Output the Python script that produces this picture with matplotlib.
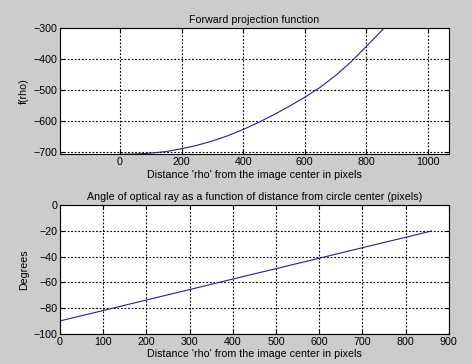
import matplotlib
matplotlib.use("Agg")
import matplotlib.pyplot as plt

# forward projection f(rho)
rho_f = [0, 50, 100, 150, 200, 250, 300, 350, 400, 450, 500, 550, 600,
         650, 700, 750, 800, 850, 860]
f_rho = [-706, -705, -702, -697, -688, -677, -663, -646, -626, -603, -578,
         -551, -522, -490, -452, -408, -358, -307, -297]

# angle of optical ray (degrees)
rho_a = [0, 100, 200, 300, 400, 500, 600, 700, 800, 860]
angle = [-90, -81.9, -73.7, -65.6, -57.4, -49.3, -41.2, -33.0, -24.9, -20]

xt_top = [0, 200, 400, 600, 800, 1000]
yt_top = [-700, -600, -500, -400, -300]
xt_bot = [0, 100, 200, 300, 400, 500, 600, 700, 800, 900]
yt_bot = [-100, -80, -60, -40, -20, 0]

plt.rcParams['font.family'] = ['Liberation Sans', 'DejaVu Sans']
fs = 7.7

bg = '#cccccc'
line_col = '#22228a'

fig = plt.figure(figsize=(4.72, 3.64), dpi=100, facecolor=bg)


def style(ax):
    ax.set_facecolor('white')
    ax.grid(True, color='black', linestyle=(0, (1.6, 1.6)), linewidth=0.8)
    ax.tick_params(direction='in', length=3, top=True, right=True,
                   labelsize=fs, pad=2)
    for s in ax.spines.values():
        s.set_linewidth(0.8)


ax1 = fig.add_axes([0.127, 0.576, 0.824, 0.346])
ax1.plot(rho_f, f_rho, color=line_col, linewidth=0.8)
ax1.set_xlim(-195, 1068)
ax1.set_ylim(-706, -300)
ax1.set_xticks(xt_top)
ax1.set_yticks(yt_top)
style(ax1)
ax1.set_title('Forward projection function', fontsize=fs, pad=4)
ax1.set_xlabel("Distance 'rho' from the image center in pixels", fontsize=fs, labelpad=2)
ax1.set_ylabel('f(rho)', fontsize=fs, labelpad=3)

ax2 = fig.add_axes([0.127, 0.083, 0.824, 0.353])
ax2.plot(rho_a, angle, color=line_col, linewidth=0.8)
ax2.set_xlim(0, 900)
ax2.set_ylim(-100, 0)
ax2.set_xticks(xt_bot)
ax2.set_yticks(yt_bot)
style(ax2)
ax2.set_title('Angle of optical ray as a function of distance from circle center (pixels)',
              fontsize=fs, pad=4)
ax2.set_xlabel("Distance 'rho' from the image center in pixels", fontsize=fs, labelpad=2)
ax2.set_ylabel('Degrees', fontsize=fs, labelpad=3)

fig.savefig('out.png', dpi=100, facecolor=bg)
